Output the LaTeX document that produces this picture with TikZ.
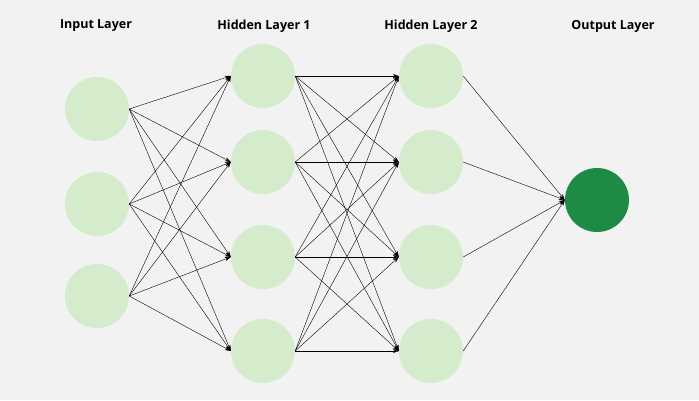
\documentclass[tikz,border=0pt]{standalone}
\usepackage{fontspec}
\setmainfont{Open Sans}
\usetikzlibrary{arrows.meta}
\definecolor{bg}{HTML}{F2F2F2}
\definecolor{lightgreen}{HTML}{D4EBCC}
\definecolor{darkgreen}{HTML}{1F8A45}
\tikzset{
	neuron/.style = {shape=circle, fill=lightgreen, minimum size=64pt, inner sep=0pt},
	outneuron/.style = {neuron, fill=darkgreen},
	title/.style = {font=\bfseries\fontsize{12.5pt}{15pt}\selectfont},
	link/.style = {-{Stealth[length=6pt,width=4pt]}, thin, black}
}
\begin{document}
\begin{tikzpicture}[x=1pt, y=-1pt]
	\fill[bg] (0,0) rectangle (699,400);
	\useasboundingbox (0,0) rectangle (699,400);
	
	\draw node[title] at (96,26){Input Layer};
	\draw node[title] at (264,26){Hidden Layer 1};
	\draw node[title] at (431,26){Hidden Layer 2};
	\draw node[title] at (613,26){Output Layer};
	
	\foreach \y [count=\i] in {109,204,296}
		\draw node[neuron] at (97,\y)(in\i){};
	\foreach \y [count=\i] in {76,162,257,351}{
		\draw node[neuron] at (263,\y)(ha\i){};
		\draw node[neuron] at (431,\y)(hb\i){};
	}
	\draw node[outneuron] at (597,200)(out){};
	
	\foreach \i in {1,2,3}
		\foreach \j in {1,...,4}
			\draw[link] (in\i.east) -- (ha\j.west);
	\foreach \i in {1,...,4}
		\foreach \j in {1,...,4}
			\draw[link] (ha\i.east) -- (hb\j.west);
	\foreach \i in {1,...,4}
		\draw[link] (hb\i.east) -- (out.west);
\end{tikzpicture}
\end{document}
